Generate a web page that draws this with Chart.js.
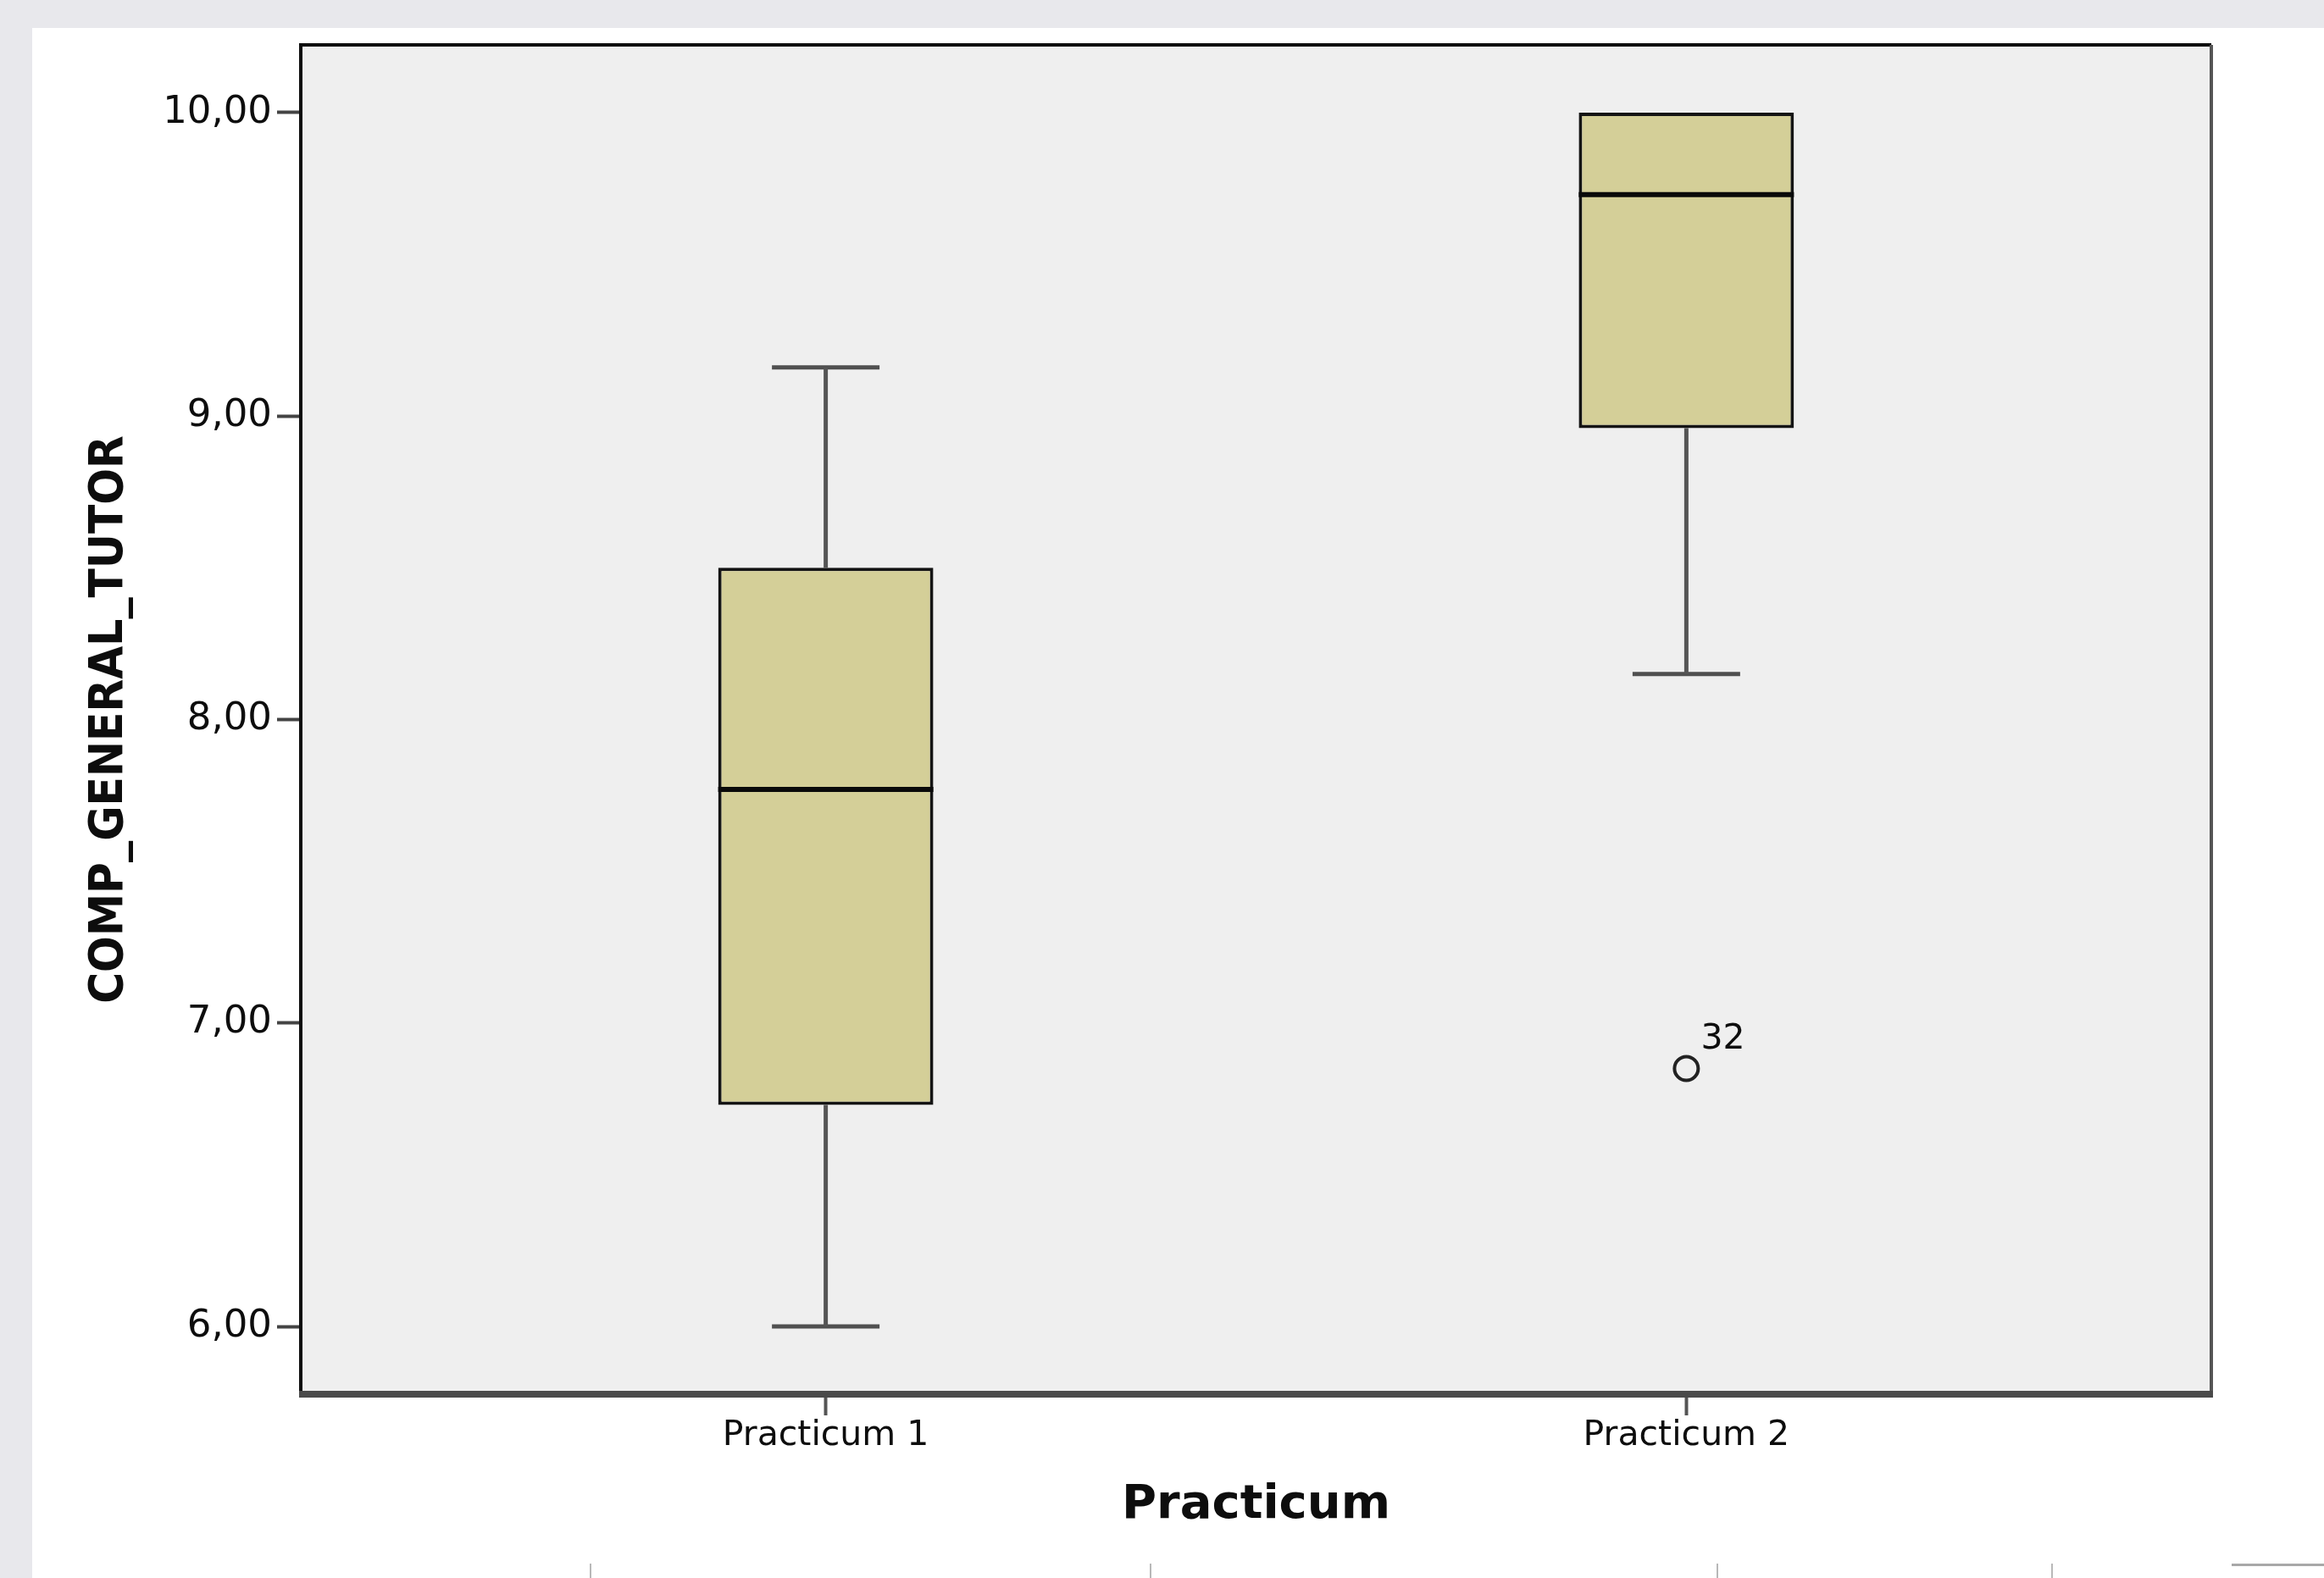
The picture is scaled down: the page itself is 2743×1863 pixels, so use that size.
<!DOCTYPE html>
<html>
<head>
<meta charset="utf-8">
<title>COMP_GENERAL_TUTOR - Practicum</title>
<script src="https://cdn.jsdelivr.net/npm/chart.js@4.4.1/dist/chart.umd.min.js"></script>
<style>
  html, body { margin: 0; padding: 0; }
  body { width: 2743px; height: 1863px; background: #e8e8ec; position: relative; overflow: hidden; }
  #panel { position: absolute; left: 38px; top: 33px; right: 0; bottom: 0; background: #fff; }
  #myChart { position: absolute; left: 0; top: 0; }
  .rule { position: absolute; background: #b8b8b8; }
</style>
</head>
<body>
<div id="panel"></div>
<canvas id="myChart" width="2743" height="1863"></canvas>
<!-- restos de la tabla de abajo -->
<div class="rule" style="left:696px; top:1846px; width:2px; height:17px"></div>
<div class="rule" style="left:1357px; top:1846px; width:2px; height:17px"></div>
<div class="rule" style="left:2026px; top:1846px; width:2px; height:17px"></div>
<div class="rule" style="left:2421px; top:1846px; width:2px; height:17px"></div>
<div class="rule" style="left:2634px; top:1846px; width:109px; height:3px; background:#a8a8a8"></div>
<script>

const categories = ['Practicum 1', 'Practicum 2'];
const minValues = [6.00, 8.15];
const q1Values = [6.73, 8.96];
const medianValues = [7.77, 9.73];
const q3Values = [8.50, 10.00];
const maxValues = [9.16, 10.00];

const outlierCategories = ['Practicum 2'];
const outlierValues = [6.85];
const outlierLabels = ['32'];

const yTicks = [6, 7, 8, 9, 10];

const boxHalf = 0.125;  // media anchura de caja (unidades del eje x)
const capHalf = 0.0625; // media anchura de los bigotes

/* posicion de una categoria en el eje x */
function xOf(cat) {
      return categories.indexOf(cat) + 1;
}

/* lineas verticales de los bigotes */
function whiskerPoints() {
      let pts = [];
      categories.forEach((c, i) => {
            let x = xOf(c);
            pts.push({x: x, y: q3Values[i]}, {x: x, y: maxValues[i]}, {x: x, y: null});
            pts.push({x: x, y: q1Values[i]}, {x: x, y: minValues[i]}, {x: x, y: null});
      });
      return pts;
}

/* lineas horizontales de los extremos (si el bigote tiene longitud 0 queda tapado por la caja) */
function capPoints() {
      let pts = [];
      categories.forEach((c, i) => {
            let x = xOf(c);
            if (maxValues[i] > q3Values[i]) {
                  pts.push({x: x - capHalf, y: maxValues[i]}, {x: x + capHalf, y: maxValues[i]}, {x: x, y: null});
            }
            if (minValues[i] < q1Values[i]) {
                  pts.push({x: x - capHalf, y: minValues[i]}, {x: x + capHalf, y: minValues[i]}, {x: x, y: null});
            }
      });
      return pts;
}

/* medianas */
function medianPoints() {
      let pts = [];
      categories.forEach((c, i) => {
            let x = xOf(c);
            pts.push({x: x - boxHalf, y: medianValues[i]}, {x: x + boxHalf, y: medianValues[i]}, {x: x, y: null});
      });
      return pts;
}

/* fondo y marco del area del grafico, etiquetas de atipicos */
const framePlugin = {
      id: 'frame',
      beforeDraw(chart) {
            const {ctx, chartArea: a} = chart;
            ctx.save();
            ctx.fillStyle = '#efefef';
            ctx.fillRect(a.left, a.top, a.right - a.left, a.bottom - a.top);
            ctx.restore();
      },
      afterDatasetsDraw(chart) {
            const ctx = chart.ctx;
            const idx = chart.data.datasets.findIndex(d => d.label === 'outliers');
            const meta = chart.getDatasetMeta(idx);
            ctx.save();
            ctx.font = "41px 'DejaVu Sans', sans-serif";
            ctx.fillStyle = '#0d0d0d';
            ctx.textBaseline = 'alphabetic';
            meta.data.forEach((pt, j) => {
                  ctx.fillText(outlierLabels[j], pt.x + 17, pt.y - 24);
            });
            ctx.restore();
      },
      afterDraw(chart) {
            const {ctx, chartArea: a} = chart;
            ctx.save();
            ctx.lineWidth = 4;
            ctx.strokeStyle = '#0d0d0d';
            ctx.beginPath();
            ctx.moveTo(a.left, a.bottom);
            ctx.lineTo(a.left, a.top);
            ctx.lineTo(a.right, a.top);
            ctx.stroke();
            ctx.strokeStyle = '#555';
            ctx.beginPath();
            ctx.moveTo(a.right, a.top);
            ctx.lineTo(a.right, a.bottom);
            ctx.stroke();
            ctx.lineWidth = 8;
            ctx.strokeStyle = '#4a4a4a';
            ctx.beginPath();
            ctx.moveTo(a.left - 2, a.bottom);
            ctx.lineTo(a.right + 2, a.bottom);
            ctx.stroke();
            ctx.restore();
      }
};

Chart.defaults.font.family = "'DejaVu Sans', Verdana, sans-serif";

const canvaNode = document.getElementById('myChart');

const chart = new Chart(canvaNode, {
      type: 'scatter',
      data: {
            datasets: [{
                  type: 'bar',
                  label: 'boxes',
                  data: categories.map((c, i) => ({x: xOf(c), y: [q1Values[i], q3Values[i]]})),
                  backgroundColor: '#d4cf98',
                  borderColor: '#141414',
                  borderWidth: 4,
                  borderSkipped: false,
                  barPercentage: 0.5,
                  categoryPercentage: 0.5,
                  order: 2
            }, {
                  type: 'line',
                  label: 'whiskers',
                  data: whiskerPoints(),
                  borderColor: '#555',
                  borderWidth: 5,
                  pointRadius: 0,
                  spanGaps: false,
                  fill: false,
                  order: 3
            }, {
                  type: 'line',
                  label: 'caps',
                  data: capPoints(),
                  borderColor: '#505050',
                  borderWidth: 5,
                  pointRadius: 0,
                  spanGaps: false,
                  fill: false,
                  order: 3
            }, {
                  type: 'line',
                  label: 'medians',
                  data: medianPoints(),
                  borderColor: '#0a0a0a',
                  borderWidth: 6,
                  pointRadius: 0,
                  spanGaps: false,
                  fill: false,
                  order: 1
            }, {
                  type: 'scatter',
                  label: 'outliers',
                  data: outlierCategories.map((c, j) => ({x: xOf(c), y: outlierValues[j]})),
                  pointStyle: 'circle',
                  pointRadius: 14,
                  borderWidth: 4,
                  borderColor: '#222',
                  backgroundColor: 'rgba(0,0,0,0)',
                  order: 0
            }]
      },
      options: {
            responsive: false,
            animation: false,
            layout: {
                  padding: {left: 101, top: 53, right: 133, bottom: 58}
            },
            plugins: {
                  legend: { display: false },
                  tooltip: { enabled: false }
            },
            scales: {
                  x: {
                        type: 'linear',
                        min: 0.39,
                        max: 2.61,
                        offset: false,
                        afterBuildTicks: (axis) => { axis.ticks = categories.map(c => ({value: xOf(c)})); },
                        afterFit: (axis) => { axis.height = 159; },
                        ticks: {
                              callback: (v, i) => categories[i],
                              font: {size: 41},
                              color: '#0d0d0d',
                              padding: 0,
                              maxRotation: 0,
                              autoSkip: false
                        },
                        grid: {
                              display: true,
                              drawOnChartArea: false,
                              drawTicks: true,
                              tickLength: 25,
                              tickWidth: 4,
                              tickColor: '#555',
                              offset: false
                        },
                        border: { display: false },
                        title: {
                              display: true,
                              text: 'Practicum',
                              font: {size: 56, weight: 'bold', lineHeight: 1},
                              color: '#0d0d0d',
                              padding: 0
                        }
                  },
                  y: {
                        type: 'linear',
                        min: 5.777,
                        max: 10.223,
                        afterBuildTicks: (axis) => { axis.ticks = yTicks.map(v => ({value: v})); },
                        afterFit: (axis) => { axis.width = 254; },
                        ticks: {
                              callback: (v) => v.toFixed(2).replace('.', ','),
                              font: {size: 45},
                              color: '#0d0d0d',
                              padding: 6
                        },
                        grid: {
                              display: true,
                              drawOnChartArea: false,
                              drawTicks: true,
                              tickLength: 28,
                              tickWidth: 4,
                              tickColor: '#444'
                        },
                        border: { display: false },
                        title: {
                              display: true,
                              text: 'COMP_GENERAL_TUTOR',
                              font: {family: "'DejaVu Sans Condensed', 'Liberation Sans', sans-serif", size: 56, weight: 'bold', lineHeight: 1},
                              color: '#0d0d0d',
                              padding: 0
                        }
                  }
            }
      },
      plugins: [framePlugin]
});
</script>
</body>
</html>
